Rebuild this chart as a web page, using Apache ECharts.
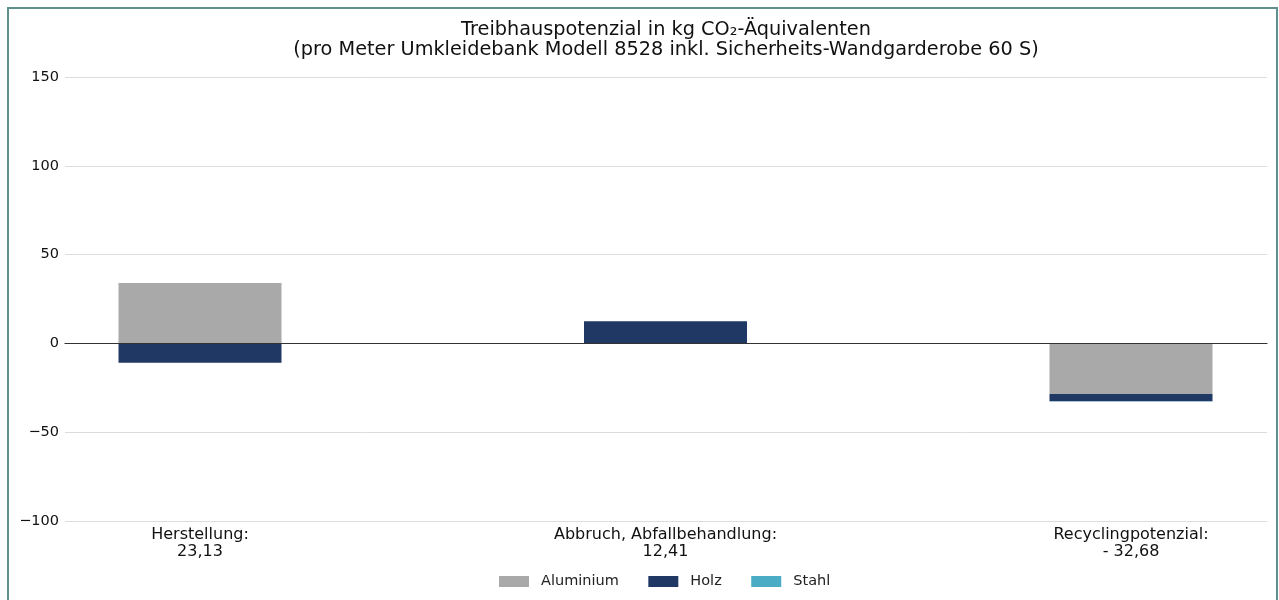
<!DOCTYPE html>
<html>
<head>
<meta charset="utf-8">
<script src="https://cdn.jsdelivr.net/npm/echarts@6/dist/echarts.min.js"></script>
<style>
  html, body { margin: 0; padding: 0; background: #fff; }
  #chart { width: 1279px; height: 600px; }
</style>
</head>
<body>
<div id="chart"></div>
<script>
// Kategorien (Lebenszyklusphasen) mit Summen
const categories = ['Herstellung:\n23,13', 'Abbruch, Abfallbehandlung:\n12,41', 'Recyclingpotenzial:\n- 32,68'];
// Werte je Material
const aluminium = [33.95, 0, -28.45];
const holz = [-10.9, 12.41, -4.15];
const stahl = [0.08, 0, -0.08];
// y-Achse
const yMin = -100;
const yMax = 150;
const yStep = 50;

const colors = {
  Aluminium: '#a9a9a9',
  Holz: '#203864',
  Stahl: '#4bacc6'
};

const font = 'DejaVu Sans';
const chart = echarts.init(document.getElementById('chart'));

function fmtY(v) {
  return v < 0 ? '\u2212' + Math.abs(v) : String(v);
}

// sichtbarer Plotbereich x 65..1267; Kategorienband 465.5px, erste Mitte bei x=200
const plotTop = 77, plotBottom = 79;

const series = [
  { name: 'Aluminium', values: aluminium },
  { name: 'Holz', values: holz },
  { name: 'Stahl', values: stahl }
].map(s => ({
  name: s.name,
  type: 'bar',
  stack: 'gwp',
  barWidth: 163,
  xAxisIndex: 0,
  yAxisIndex: 0,
  itemStyle: { color: colors[s.name] },
  data: s.values,
  silent: true
}));

chart.setOption({
  animation: false,
  backgroundColor: '#fff',
  textStyle: { fontFamily: font },
  graphic: [{
    type: 'rect',
    shape: { x: 8, y: 8, width: 1269, height: 600 },
    style: { fill: 'none', stroke: '#5f9090', lineWidth: 2 },
    silent: true
  }],
  title: {
    text: 'Treibhauspotenzial in kg CO\u2082-\u00c4quivalenten\n(pro Meter Umkleidebank Modell 8528 inkl. Sicherheits-Wandgarderobe 60 S)',
    left: 661,
    textAlign: 'center',
    top: 15,
    textStyle: { fontFamily: font, fontSize: 19.3, fontWeight: 'normal', color: '#111', lineHeight: 20 }
  },
  legend: {
    bottom: 6,
    left: 494,
    itemWidth: 30,
    itemHeight: 11,
    itemGap: 29.5,
    icon: 'rect',
    textStyle: { fontFamily: font, fontSize: 14.5, color: '#222', padding: [0, 0, 0, 7] },
    data: ['Aluminium', 'Holz', 'Stahl']
  },
  grid: [
    // Balken
    { left: -32.75, right: -84.75, top: plotTop, bottom: plotBottom, outerBoundsMode: 'none', containLabel: false },
    // Achse / Gitter
    { left: 65, right: 12, top: plotTop, bottom: plotBottom, outerBoundsMode: 'none', containLabel: false }
  ],
  xAxis: [{
    type: 'category',
    gridIndex: 0,
    data: categories,
    axisLine: { show: false },
    axisTick: { show: false },
    axisLabel: {
      color: '#111',
      fontFamily: font,
      fontSize: 16,
      lineHeight: 17.5,
      margin: 5,
      interval: 0
    }
  }, {
    type: 'value',
    gridIndex: 1,
    min: 0,
    max: 1,
    z: 10,
    splitLine: { show: false },
    axisTick: { show: false },
    axisLabel: { show: false },
    axisLine: { show: true, onZero: true, lineStyle: { color: '#333', width: 1.2 } }
  }],
  yAxis: [{
    type: 'value',
    gridIndex: 0,
    min: yMin,
    max: yMax,
    interval: yStep,
    show: false,
    splitLine: { show: false }
  }, {
    type: 'value',
    gridIndex: 1,
    min: yMin,
    max: yMax,
    interval: yStep,
    axisLine: { show: false },
    axisTick: { show: false },
    axisLabel: {
      formatter: fmtY,
      color: '#111',
      fontFamily: font,
      fontSize: 14.5,
      margin: 6
    },
    splitLine: { lineStyle: { color: '#dcdcdc', width: 1 } }
  }],
  series: series
});
</script>
</body>
</html>
